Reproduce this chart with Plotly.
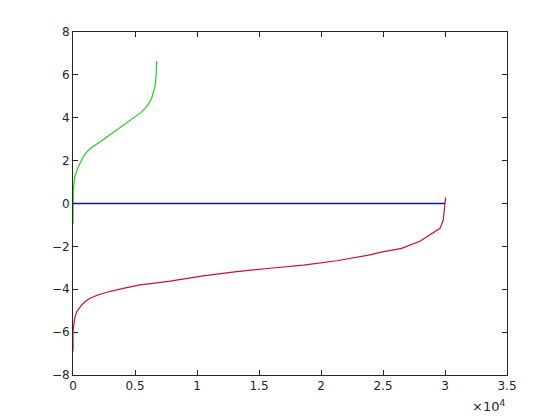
import plotly.graph_objects as go

# Green curve
green_x = [0, 0, 20, 140, 430, 830, 1000, 1370, 1700, 2040, 2400, 2720, 3000, 3520, 4000, 4330,
           4700, 5130, 5500, 5800, 6100, 6340, 6610, 6700, 6740, 6750]
green_y = [-0.95, 0.3, 0.6, 1.25, 1.72, 2.18, 2.33, 2.55, 2.7, 2.82, 2.96, 3.09, 3.2, 3.43, 3.62,
           3.75, 3.9, 4.07, 4.25, 4.44, 4.65, 4.9, 5.45, 5.91, 6.3, 6.65]

# Red curve
red_x = [0, 0, 80, 150, 300, 500, 700, 1000, 1370, 2000, 2720, 4060, 5400, 6750, 7820, 10510,
         13200, 15890, 18580, 21270, 23950, 24760, 26500, 27980, 29050, 29600, 29860, 30000, 30050]
red_y = [-6.9, -6.0, -5.59, -5.3, -5.05, -4.88, -4.73, -4.57, -4.42, -4.27, -4.14, -3.96, -3.8,
         -3.7, -3.62, -3.38, -3.18, -3.02, -2.87, -2.67, -2.40, -2.28, -2.09, -1.76, -1.39, -1.16,
         -0.77, -0.15, 0.28]

# Blue line
blue_x = [0, 30000]
blue_y = [0, 0]

x_tickvals = [0, 5000, 10000, 15000, 20000, 25000, 30000, 35000]
x_ticktext = ["0", "0.5", "1", "1.5", "2", "2.5", "3", "3.5"]
y_tickvals = [-8, -6, -4, -2, 0, 2, 4, 6, 8]

fig = go.Figure()
fig.add_trace(go.Scatter(x=green_x, y=green_y, mode="lines",
                         line=dict(color="#22cc22", width=1.2), showlegend=False))
fig.add_trace(go.Scatter(x=red_x, y=red_y, mode="lines",
                         line=dict(color="#cc0f2f", width=1.2), showlegend=False))
fig.add_trace(go.Scatter(x=blue_x, y=blue_y, mode="lines",
                         line=dict(color="#1414b4", width=1.5), showlegend=False))

axis_common = dict(
    showgrid=False, zeroline=False, showline=True, linecolor="#262626", linewidth=1,
    mirror="ticks", ticks="inside", ticklen=5, tickcolor="#262626", tickwidth=1,
    layer="below traces",
    tickfont=dict(family="DejaVu Sans", size=12, color="#262626"),
)

# page body has an 8px margin, so the figure is shrunk and shifted accordingly
fig.update_layout(
    width=552, height=412,
    margin=dict(l=65, r=53, t=24, b=45),
    paper_bgcolor="white", plot_bgcolor="white",
    xaxis=dict(range=[0, 35000], tickvals=x_tickvals, ticktext=x_ticktext, **axis_common),
    yaxis=dict(range=[-8, 8], tickvals=y_tickvals, **axis_common),
    annotations=[dict(text="×10<sup>4</sup>", xref="paper", yref="paper", x=1.0, y=-0.062,
                      xanchor="right", yanchor="top", showarrow=False,
                      font=dict(family="DejaVu Sans", size=13, color="#262626"))],
)

fig.write_html("out.html")
